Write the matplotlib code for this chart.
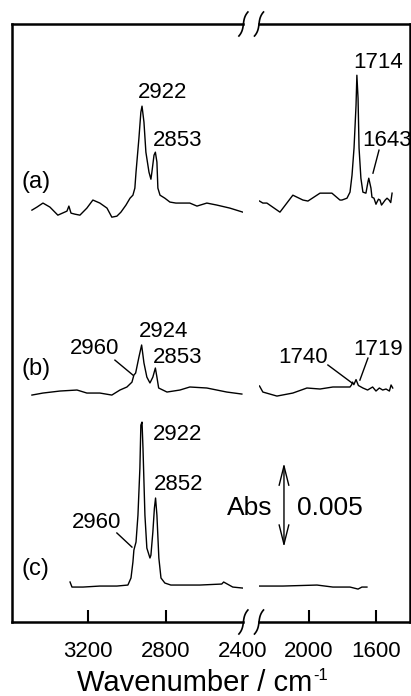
import numpy as np
import matplotlib.pyplot as plt
from matplotlib.lines import Line2D

plt.rcParams['font.family'] = ['Liberation Sans', 'DejaVu Sans']

# IR spectra, absorbance in units of 1e-3, relative to each baseline
# high-wavenumber window (C-H stretch) and low-wavenumber window (C=O)
a_hi_wn = [3491, 3465, 3434, 3398, 3357, 3310, 3300, 3289, 3269, 3243, 3207, 3176, 3140, 3103, 3078,
           3052, 3031, 3005, 2984, 2969, 2959, 2953, 2938, 2928, 2922, 2912, 2902, 2886, 2876, 2871,
           2860, 2853, 2845, 2840, 2829, 2804, 2778, 2747, 2675, 2638, 2587, 2535, 2468, 2401]
a_hi_abs = [0.0, 0.18, 0.42, 0.18, -0.30, -0.06, 0.24, -0.18, -0.24, -0.30, 0.12, 0.60, 0.42, 0.12, -0.42,
            -0.36, -0.12, 0.30, 0.71, 0.89, 1.31, 2.26, 4.28, 5.83, 6.19, 5.24, 3.45, 2.26, 1.84, 2.26,
            3.27, 3.45, 2.86, 1.31, 0.89, 0.71, 0.48, 0.42, 0.42, 0.24, 0.42, 0.30, 0.12, -0.12]
a_lo_wn = [2295, 2275, 2251, 2173, 2096, 2036, 2006, 1934, 1863, 1815, 1803, 1773, 1755, 1743, 1731,
           1719, 1714, 1707, 1701, 1690, 1678, 1660, 1648, 1643, 1630, 1624, 1612, 1600, 1594, 1585,
           1576, 1567, 1558, 1545, 1534, 1522, 1512, 1504]
a_lo_abs = [0.54, 0.42, 0.42, -0.12, 0.89, 0.60, 0.54, 1.01, 1.01, 0.60, 0.60, 0.71, 1.07, 2.08, 3.69,
            6.25, 8.03, 6.66, 3.69, 1.90, 1.07, 1.01, 1.67, 1.90, 1.31, 0.77, 0.71, 0.35, 0.48, 0.65,
            0.60, 0.30, 0.42, 0.60, 0.71, 0.60, 0.45, 1.01]

b_hi_wn = [3491, 3434, 3346, 3258, 3207, 3140, 3078, 3036, 3000, 2974, 2964, 2955, 2938, 2924, 2912,
           2897, 2881, 2866, 2853, 2845, 2836, 2793, 2726, 2675, 2587, 2484, 2406]
b_hi_abs = [-0.12, 0.0, 0.12, 0.18, 0.0, 0.0, -0.12, 0.18, 0.36, 0.65, 1.07, 1.19, 2.14, 2.86, 1.79,
            0.95, 0.60, 0.95, 1.49, 0.95, 0.30, 0.06, 0.18, 0.36, 0.30, 0.06, -0.06]
b_lo_wn = [2295, 2275, 2191, 2096, 2012, 1934, 1857, 1755, 1745, 1740, 1732, 1719, 1705, 1678, 1650,
           1620, 1600, 1580, 1560, 1540, 1520, 1510, 1500]
b_lo_abs = [0.42, 0.06, -0.18, 0.0, 0.30, 0.24, 0.36, 0.36, 0.50, 0.65, 0.50, 0.80, 0.45, 0.30, 0.18,
            0.36, 0.12, 0.30, 0.18, 0.24, 0.12, 0.48, 0.30]

c_hi_wn = [3294, 3284, 3227, 3140, 3052, 2995, 2979, 2969, 2964, 2960, 2953, 2943, 2933, 2928, 2922,
           2917, 2907, 2897, 2881, 2876, 2866, 2858, 2852, 2845, 2835, 2824, 2804, 2773, 2623, 2510,
           2500, 2453, 2401]
c_hi_abs = [0.24, -0.06, -0.06, 0.0, 0.0, 0.06, 0.48, 1.43, 2.14, 2.32, 2.62, 4.22, 7.02, 9.58, 9.76,
            8.21, 4.22, 2.26, 1.67, 1.84, 3.21, 4.64, 5.24, 4.22, 1.67, 0.48, 0.18, 0.06, 0.06, 0.12,
            0.24, -0.06, -0.12]
c_lo_wn = [2295, 2155, 1952, 1857, 1755, 1707, 1684, 1654]
c_lo_abs = [0.0, 0.0, 0.06, -0.06, -0.06, -0.18, -0.06, -0.06]

offsets = [24.52, 13.63, 2.14]
scale_bar = 5.0   # 0.005 Abs

W, H = 411, 696
fig = plt.figure(figsize=(W / 100, H / 100), dpi=100)


def px_rect(x0, x1, ytop, ybot):
    return [x0 / W, 1 - ybot / H, (x1 - x0) / W, (ybot - ytop) / H]


ax1 = fig.add_axes(px_rect(12, 243.4, 24, 622))
ax2 = fig.add_axes(px_rect(259, 409.5, 24, 622))
ax1.set_xlim(3594, 2398)
ax2.set_xlim(2298, 1400)

for ax in (ax1, ax2):
    ax.set_ylim(0, 35.6)
    ax.set_yticks([])
    ax.patch.set_visible(False)
    for sp in ax.spines.values():
        sp.set_linewidth(1.8)
    ax.tick_params(axis='x', direction='in', length=8.6, width=1.5, labelsize=16, pad=13.5)
ax1.spines['right'].set_visible(False)
ax2.spines['left'].set_visible(False)
ax1.set_xticks([3200, 2800, 2400])
ax2.set_xticks([2000, 1600])
ax1.xaxis.get_major_ticks()[2].tick1line.set_visible(False)

spectra = [(a_hi_wn, a_hi_abs, a_lo_wn, a_lo_abs),
           (b_hi_wn, b_hi_abs, b_lo_wn, b_lo_abs),
           (c_hi_wn, c_hi_abs, c_lo_wn, c_lo_abs)]
for (hw, ha_, lw_, la), off in zip(spectra, offsets):
    ax1.plot(hw, np.array(ha_) + off, 'k-', lw=1.0)
    ax2.plot(lw_, np.array(la) + off, 'k-', lw=1.0)

fs = 16
# peak labels (left edge, baseline)
ax1.text(2943, 31.2, '2922', fontsize=fs)
ax1.text(2866, 28.33, '2853', fontsize=fs)
ax2.text(1737, 32.97, '1714', fontsize=fs)
ax2.text(1684, 28.33, '1643', fontsize=fs)
ax2.plot([1582, 1618], [28.09, 26.72], 'k-', lw=1.0)

ax1.text(2938, 16.96, '2924', fontsize=fs)
ax1.text(3295, 15.95, '2960', fontsize=fs)
ax1.text(2866, 15.42, '2853', fontsize=fs)
ax1.plot([3062, 2969], [15.59, 14.70], 'k-', lw=1.0)
ax2.text(2185, 15.42, '1740', fontsize=fs)
ax2.text(1737, 15.89, '1719', fontsize=fs)
ax2.plot([1887, 1743], [15.30, 14.23], 'k-', lw=1.0)
ax2.plot([1648, 1696], [15.71, 14.40], 'k-', lw=1.0)

ax1.text(2866, 10.83, '2922', fontsize=fs)
ax1.text(2860, 7.86, '2852', fontsize=fs)
ax1.text(3284, 5.60, '2960', fontsize=fs)
ax1.plot([3052, 2974], [5.30, 4.46], 'k-', lw=1.0)

for lab, y in zip(['(a)', '(b)', '(c)'], [25.83, 14.70, 2.80]):
    ax1.text(3543, y, lab, fontsize=17)

# absorbance scale bar
ax2.annotate('', xy=(2149, 4.46), xytext=(2149, 4.46 + scale_bar),
             arrowprops=dict(arrowstyle='<->,head_length=1.4,head_width=0.35',
                             lw=1.0, color='k', shrinkA=0, shrinkB=0, mutation_scale=10))
ax1.text(2483, 6.37, 'Abs', fontsize=19)
ax2.text(2072, 6.37, '0.005', fontsize=19)

# axis break marks on top and bottom frame
t = np.linspace(-1, 1, 40)
for x0 in (243.4, 259):
    for y0 in (24, 622):
        xs = x0 + 1.5 * t + 3 * t ** 3
        ys = y0 - 12 * t
        fig.add_artist(Line2D(xs / W, 1 - ys / H, color='k', lw=1.2))

# x label with a plain hyphen in the superscript
xl = fig.text(77 / W, 1 - 691 / H, 'Wavenumber / cm', ha='left', va='baseline', fontsize=21)
bb = xl.get_window_extent(fig.canvas.get_renderer())
fig.text((bb.x1 + 1) / W, 1 - 680 / H, '-1', ha='left', va='baseline', fontsize=12)

fig.savefig('out.png', dpi=100)
